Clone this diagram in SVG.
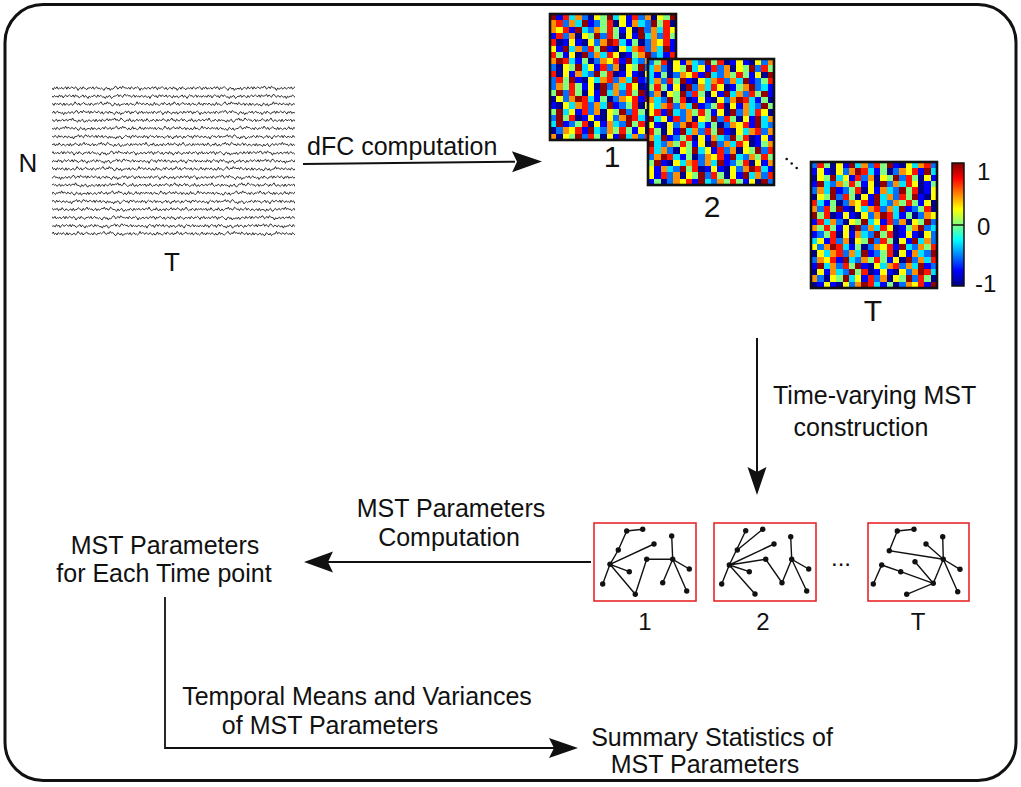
<svg xmlns="http://www.w3.org/2000/svg" xmlns:xlink="http://www.w3.org/1999/xlink" width="1021" height="787" viewBox="0 0 1021 787">
<style>
text{font-family:"Liberation Sans",Arial,sans-serif;fill:#111}
.lb{font-size:25px}
.mid{text-anchor:middle}
.big{font-size:30px}
.sm{font-size:24px}
.ln{fill:none;stroke:#111;stroke-width:2}
.ah{fill:#111}
.box{fill:#fff;stroke:#e8262a;stroke-width:1.6}
.ed{stroke:#111;stroke-width:1.4;fill:none}
.nd{fill:#111}
.eg{fill:none;stroke:#1a1a1a;stroke-width:0.9}
.c0{stroke:#00008f}.c1{stroke:#0000ff}.c2{stroke:#0070ff}.c3{stroke:#00e5ff}.c4{stroke:#80ff80}.c5{stroke:#ffff00}.c6{stroke:#ff9000}.c7{stroke:#ff1400}.c8{stroke:#900000}
.mf{fill:none;stroke:#111;stroke-width:2.6}
</style>
<defs>
<clipPath id="mc"><rect x="0" y="0" width="20" height="20"/></clipPath>
<clipPath id="ec"><rect x="52" y="80" width="243" height="162"/></clipPath>
<linearGradient id="jet" x1="0" y1="0" x2="0" y2="1">
<stop offset="0" stop-color="#800000"/><stop offset=".125" stop-color="#ff0000"/><stop offset=".25" stop-color="#ff8000"/><stop offset=".375" stop-color="#ffff00"/><stop offset=".5" stop-color="#80ff80"/><stop offset=".625" stop-color="#00ffff"/><stop offset=".75" stop-color="#0080ff"/><stop offset=".875" stop-color="#0000ff"/><stop offset="1" stop-color="#000080"/>
</linearGradient>
<g id="seq" transform="translate(0 .5)" stroke-width="1" fill="none">
<path class="c0" d="M6 0h1M16 0h1M23 0h1M34 0h1M47 0h1M56 0h1M60 0h1M69 0h1M84 0h1M91 0h1"/>
<path class="c1" d="M1 0h1M12 0h1M25 0h1M33 0h1M43 0h1M49 0h1M57 0h1M59 0h1M67 0h1M74 0h1M82 0h1M92 0h1M98 0h1"/>
<path class="c2" d="M5 0h1M14 0h1M20 0h1M29 0h1M39 0h1M44 0h1M52 0h1M62 0h1M70 0h1M77 0h1M86 0h1M96 0h1"/>
<path class="c3" d="M3 0h1M10 0h1M27 0h1M36 0h1M41 0h1M51 0h1M66 0h1M76 0h1M88 0h1M97 0h1"/>
<path class="c4" d="M8 0h1M18 0h1M22 0h1M31 0h1M45 0h1M54 0h1M68 0h1M79 0h1M81 0h1M93 0h1"/>
<path class="c5" d="M7 0h1M11 0h1M17 0h1M24 0h1M35 0h1M48 0h1M58 0h1M61 0h1M72 0h1M83 0h1M90 0h1"/>
<path class="c6" d="M4 0h1M15 0h1M28 0h1M37 0h1M40 0h1M50 0h1M63 0h1M71 0h1M78 0h1M87 0h1M94 0h1"/>
<path class="c7" d="M2 0h1M13 0h1M21 0h1M30 0h1M38 0h1M46 0h1M55 0h1M65 0h1M73 0h1M80 0h1M89 0h1M99 0h1"/>
<path class="c8" d="M0 0h1M9 0h1M19 0h1M26 0h1M32 0h1M42 0h1M53 0h1M64 0h1M75 0h1M85 0h1M95 0h1"/>
</g>
<path id="eeg" class="eg" vector-effect="non-scaling-stroke" d="M0 0l2 1.5 2-2 2 1 2-1.5 2 2 2-1 2 .5 2-1 2 1.5 2-1 2-1 2 2 2-2 2 1.5 2-.5 2-1 2 1 2 .5 2-1.5 2 1 2 2 2-1.5 2-1 2 1.5 2-2 2 1 2 .5 2 1 2-1.5 2 0 2-.5 2 1 2-1.5 2 2 2-1 2-1 2 1.5 2-.5 2 1 2-1 2 1 2 1 2-2 2-.5 2 1.5 2-1 2 2 2-1.5 2 .5 2-1 2-1.5 2 .5 2 2 2-1 2-1 2 1.5 2-2 2 1 2 .5 2 0 2 .5 2-1 2 1.5 2-2 2 1 2 1 2-1.5 2 .5 2-1 2 1 2 2 2-2 2 1 2-.5 2-1 2 1.5 2-1 2-.5 2 1.5 2-1 2-1 2 1.5 2-1.5 2 .5 2 2 2-2 2 1 2-1 2-.5 2 1 2 1 2-1.5 2 2 2-1 2-1 2 .5 2 1 2-2 2 1.5 2-.5 2 2 2-1.5 2-1 2 1.5 2-2 2 1 2 .5 2 1 2-1.5 2 0 2 .5 2-1 2 1.5 2-2 2 1 2 1 2-1.5 2 .5 2-1 2 1 2 1.5 2-2 2 1 2-1.5 2 2 2-1 2 .5 2-1 2 1.5 2-1 2-1 2 1.5 2-1.5 2 .5 2 2 2-2 2 1 2-1 2-.5 2 1 2 1 2 1 2-2 2-.5 2 1.5 2-1 2 2 2-1.5 2 .5 2-1 2 1 2-1.5 2 2 2-1 2-1 2 .5 2 1 2-2 2 1.5 2-.5 2-1 2 2 2-2 2 1.5 2-.5 2-1 2 1 2 .5 2-1.5 2 1 2-1.5 2 .5 2 2 2-1 2-1 2 1.5 2-2 2 1 2 .5 2 0 2 2 2-2 2 1 2-.5 2-1 2 1.5 2-1 2-.5 2 1.5 2-1 2-.5 2 1 2-1.5 2 2 2-1 2-1 2 1.5 2-.5 2 1 2-1"/>
<path id="eeg2" class="eg" vector-effect="non-scaling-stroke" d="M0 0l2-.5 2 1 2-1.5 2 2 2-1 2-1 2 1.5 2-.5 2 1 2-1 2 2 2-2 2 1 2-.5 2-1 2 1.5 2-1 2-.5 2 1.5 2-1 2-1.5 2 .5 2 2 2-1 2-1 2 1.5 2-2 2 1 2 .5 2 0 2-1 2 2 2-2 2 1.5 2-.5 2-1 2 1 2 .5 2-1.5 2 1 2 1 2-1.5 2 2 2-1 2-1 2 .5 2 1 2-2 2 1.5 2-.5 2 1 2 1 2-2 2-.5 2 1.5 2-1 2 2 2-1.5 2 .5 2-1 2-1 2 1.5 2-1.5 2 .5 2 2 2-2 2 1 2-1 2-.5 2 1 2 1.5 2-2 2 1 2-1.5 2 2 2-1 2 .5 2-1 2 1.5 2-1 2 .5 2-1 2 1.5 2-2 2 1 2 1 2-1.5 2 .5 2-1 2 1 2 2 2-1.5 2-1 2 1.5 2-2 2 1 2 .5 2 1 2-1.5 2 0 2 1 2-1.5 2 2 2-1 2-1 2 .5 2 1 2-2 2 1.5 2-.5 2-1 2 1.5 2-1.5 2 .5 2 2 2-2 2 1 2-1 2-.5 2 1 2 2 2-2 2 1 2-.5 2-1 2 1.5 2-1 2-.5 2 1.5 2-1 2 .5 2-1 2 1.5 2-2 2 1 2 1 2-1.5 2 .5 2-1 2 1 2-1.5 2 .5 2 2 2-1 2-1 2 1.5 2-2 2 1 2 .5 2 0 2 1 2 1 2-2 2-.5 2 1.5 2-1 2 2 2-1.5 2 .5 2-1 2-.5 2 1 2-1.5 2 2 2-1 2-1 2 1.5 2-.5 2 1 2-1 2 2 2-1.5 2-1 2 1.5 2-2 2 1 2 .5 2 1 2-1.5 2 0 2-1 2 2 2-2 2 1.5 2-.5 2-1 2 1 2 .5 2-1.5 2 1 2 1.5 2-2 2 1 2-1.5 2 2 2-1 2 .5 2-1 2 1.5 2-1"/>
</defs>

<rect id="frame" x="5" y="4.5" width="1011" height="776" rx="38" fill="#fff" stroke="#111" stroke-width="3"/>

<g id="timeseries">
<g clip-path="url(#ec)">
<use href="#eeg" transform="translate(52 88) scale(.62 1.2)"/>
<use href="#eeg2" transform="translate(300 96.1) scale(-.62 1.2)"/>
<use href="#eeg" transform="translate(49 104.2) scale(.62 -1.2)"/>
<use href="#eeg2" transform="translate(50 112.3) scale(.62 1.2)"/>
<use href="#eeg" transform="translate(297 120.4) scale(-.62 -1.2)"/>
<use href="#eeg2" transform="translate(52 128.5) scale(.62 -1.2)"/>
<use href="#eeg" transform="translate(298 136.6) scale(-.62 1.2)"/>
<use href="#eeg2" transform="translate(296 144.7) scale(-.62 -1.2)"/>
<use href="#eeg" transform="translate(48 152.8) scale(.62 1.2)"/>
<use href="#eeg2" transform="translate(299 160.9) scale(-.62 1.2)"/>
<use href="#eeg" transform="translate(51 169) scale(.62 -1.2)"/>
<use href="#eeg2" transform="translate(47 177.1) scale(.62 1.2)"/>
<use href="#eeg" transform="translate(300 185.2) scale(-.62 -1.2)"/>
<use href="#eeg2" transform="translate(48 193.3) scale(.62 -1.2)"/>
<use href="#eeg" transform="translate(296 201.4) scale(-.62 1.2)"/>
<use href="#eeg2" transform="translate(299 209.5) scale(-.62 -1.2)"/>
<use href="#eeg" transform="translate(50 217.6) scale(.62 1.2)"/>
<use href="#eeg2" transform="translate(297 225.7) scale(-.62 1.2)"/>
<use href="#eeg" transform="translate(52 233.8) scale(.62 -1.2)"/>
</g>
<text class="lb mid" x="28" y="172" style="font-size:26px">N</text>
<text class="lb mid" x="172" y="271" style="font-size:26px">T</text>
</g>

<g id="matrix1">
<g transform="translate(550 14) scale(6.3)" shape-rendering="crispEdges"><g clip-path="url(#mc)">
<use href="#seq" x="0" y="0"/><use href="#seq" x="-37" y="1"/><use href="#seq" x="-71" y="2"/><use href="#seq" x="-12" y="3"/><use href="#seq" x="-55" y="4"/><use href="#seq" x="-24" y="5"/><use href="#seq" x="-80" y="6"/><use href="#seq" x="-63" y="7"/><use href="#seq" x="-5" y="8"/><use href="#seq" x="-46" y="9"/><use href="#seq" x="-29" y="10"/><use href="#seq" x="-77" y="11"/><use href="#seq" x="-18" y="12"/><use href="#seq" x="-60" y="13"/><use href="#seq" x="-33" y="14"/><use href="#seq" x="-8" y="15"/><use href="#seq" x="-52" y="16"/><use href="#seq" x="-41" y="17"/><use href="#seq" x="-69" y="18"/><use href="#seq" x="-15" y="19"/>
</g></g>
<rect class="mf" x="550" y="14" width="126" height="126"/>
<text class="big mid" x="612" y="167">1</text>
</g>

<g id="matrix2">
<g transform="translate(648 59) scale(6.3)" shape-rendering="crispEdges"><g clip-path="url(#mc)">
<use href="#seq" x="-44" y="0"/><use href="#seq" x="-3" y="1"/><use href="#seq" x="-66" y="2"/><use href="#seq" x="-27" y="3"/><use href="#seq" x="-79" y="4"/><use href="#seq" x="-14" y="5"/><use href="#seq" x="-50" y="6"/><use href="#seq" x="-35" y="7"/><use href="#seq" x="-72" y="8"/><use href="#seq" x="-9" y="9"/><use href="#seq" x="-58" y="10"/><use href="#seq" x="-21" y="11"/><use href="#seq" x="-40" y="12"/><use href="#seq" x="-75" y="13"/><use href="#seq" x="-2" y="14"/><use href="#seq" x="-62" y="15"/><use href="#seq" x="-31" y="16"/><use href="#seq" x="-48" y="17"/><use href="#seq" x="-11" y="18"/><use href="#seq" x="-67" y="19"/>
</g></g>
<rect class="mf" x="648" y="59" width="126" height="126"/>
<text class="big mid" x="712" y="217">2</text>
</g>

<g id="dots">
<circle cx="786.7" cy="159" r="1.3" fill="#111"/><circle cx="791.7" cy="163.5" r="1.3" fill="#111"/><circle cx="796.7" cy="168" r="1.3" fill="#111"/>
</g>

<g id="matrixT">
<g transform="translate(811 162) scale(6.3)" shape-rendering="crispEdges"><g clip-path="url(#mc)">
<use href="#seq" x="-20" y="0"/><use href="#seq" x="-57" y="1"/><use href="#seq" x="-6" y="2"/><use href="#seq" x="-74" y="3"/><use href="#seq" x="-39" y="4"/><use href="#seq" x="-16" y="5"/><use href="#seq" x="-65" y="6"/><use href="#seq" x="-28" y="7"/><use href="#seq" x="-53" y="8"/><use href="#seq" x="-1" y="9"/><use href="#seq" x="-78" y="10"/><use href="#seq" x="-43" y="11"/><use href="#seq" x="-10" y="12"/><use href="#seq" x="-61" y="13"/><use href="#seq" x="-34" y="14"/><use href="#seq" x="-70" y="15"/><use href="#seq" x="-25" y="16"/><use href="#seq" x="-47" y="17"/><use href="#seq" x="-4" y="18"/><use href="#seq" x="-56" y="19"/>
</g></g>
<rect class="mf" x="811" y="162" width="126" height="126"/>
<text class="big mid" x="873" y="321">T</text>
</g>

<g id="colorbar">
<rect x="952" y="163" width="12" height="123" fill="url(#jet)" stroke="#111" stroke-width="1.5"/>
<line x1="952" y1="225" x2="964" y2="225" stroke="#111" stroke-width="1.5"/>
<text class="sm" x="977" y="180">1</text>
<text class="sm" x="977" y="235">0</text>
<text class="sm" x="975" y="292">-1</text>
</g>

<g id="mst1">
<rect class="box" x="594" y="523" width="102" height="78"/>
<path class="ed" d="M626.7 531L642.7 529.3M626.7 531L618.3 550L610 564.3M610 564.3L654 544M610 564.3L629.3 571.7M610 564.3L602.7 584M610 564.3L635.3 594.3L646.7 559.3L672.7 559.3M671.7 536L672.7 559.3L689.3 569M672.7 559.3L662.7 582.7M672.7 559.3L686.7 591"/>
<g class="nd"><circle cx="626.7" cy="531" r="2.7"/><circle cx="642.7" cy="529.3" r="2.7"/><circle cx="618.3" cy="550" r="2.7"/><circle cx="654" cy="544" r="2.7"/><circle cx="610" cy="564.3" r="2.7"/><circle cx="629.3" cy="571.7" r="2.7"/><circle cx="602.7" cy="584" r="2.7"/><circle cx="635.3" cy="594.3" r="2.7"/><circle cx="646.7" cy="559.3" r="2.7"/><circle cx="671.7" cy="536" r="2.7"/><circle cx="672.7" cy="559.3" r="2.7"/><circle cx="689.3" cy="569" r="2.7"/><circle cx="662.7" cy="582.7" r="2.7"/><circle cx="686.7" cy="591" r="2.7"/></g>
<text class="sm mid" x="645" y="630">1</text>
</g>

<g id="mst2">
<rect class="box" x="714" y="523" width="102" height="78"/>
<path class="ed" d="M729.3 565L745.7 530.7M737.3 550L762.7 529.3M729.3 565L774 544M729.3 565L765.7 559.3L782 582.7L791.7 559.3M729.3 565L749.3 571.7M729.3 565L755 594M729.3 565L721.7 584M790.7 536.7L791.7 559.3L808.7 569M791.7 559.3L806.7 591"/>
<g class="nd"><circle cx="745.7" cy="530.7" r="2.7"/><circle cx="762.7" cy="529.3" r="2.7"/><circle cx="737.3" cy="550" r="2.7"/><circle cx="774" cy="544" r="2.7"/><circle cx="729.3" cy="565" r="2.7"/><circle cx="749.3" cy="571.7" r="2.7"/><circle cx="721.7" cy="584" r="2.7"/><circle cx="755" cy="594" r="2.7"/><circle cx="765.7" cy="559.3" r="2.7"/><circle cx="790.7" cy="536.7" r="2.7"/><circle cx="791.7" cy="559.3" r="2.7"/><circle cx="808.7" cy="569" r="2.7"/><circle cx="782" cy="582.7" r="2.7"/><circle cx="806.7" cy="591" r="2.7"/></g>
<text class="sm mid" x="763" y="630">2</text>
</g>

<text class="sm mid" x="841" y="566">...</text>

<g id="mstT">
<rect class="box" x="868" y="523" width="101" height="78"/>
<path class="ed" d="M897.3 531L914 529.3M897.3 531L889.3 550.7L943.3 559.3M926 544L943.3 559.3L960 569.3M942.7 536.7L943.3 559.3L957.7 591.7M943.3 559.3L933.3 583.3M873.3 584L881.7 565L900.7 571.7L933.3 583.3M915 561.7L933.3 583.3L906.7 594.3"/>
<g class="nd"><circle cx="897.3" cy="531" r="2.7"/><circle cx="914" cy="529.3" r="2.7"/><circle cx="889.3" cy="550.7" r="2.7"/><circle cx="926" cy="544" r="2.7"/><circle cx="942.7" cy="536.7" r="2.7"/><circle cx="943.3" cy="559.3" r="2.7"/><circle cx="960" cy="569.3" r="2.7"/><circle cx="881.7" cy="565" r="2.7"/><circle cx="900.7" cy="571.7" r="2.7"/><circle cx="873.3" cy="584" r="2.7"/><circle cx="915" cy="561.7" r="2.7"/><circle cx="933.3" cy="583.3" r="2.7"/><circle cx="957.7" cy="591.7" r="2.7"/><circle cx="906.7" cy="594.3" r="2.7"/></g>
<text class="sm mid" x="918" y="630">T</text>
</g>

<g id="mstparams">
<text class="lb mid" x="165" y="554">MST Parameters</text>
<text class="lb mid" x="164" y="582">for Each Time point</text>
</g>

<g id="summary">
<text class="lb mid" x="712" y="746">Summary Statistics of</text>
<text class="lb mid" x="705" y="773">MST Parameters</text>
</g>

<g id="connectors">
<path class="ln" d="M303 164L515 161.8"/>
<path class="ah" d="M542 161.5l-30-10.5 5 10.5-5 10.5z" transform="rotate(-0.6 542 161.5)"/>
<path class="ln" d="M757 338V472"/>
<path class="ah" d="M757 495l-9.5-28 9.5 5 9.5-5z"/>
<path class="ln" d="M591 562H326"/>
<path class="ah" d="M304 562l29-10.5-5 10.5 5 10.5z"/>
<path class="ln" style="stroke-width:1.8" d="M165 597V748H555"/>
<path class="ah" d="M578 748l-29-10 5 10-5 10z"/>
</g>

<g id="labels">
<text class="lb" x="307" y="155">dFC computation</text>
<text class="lb" x="773" y="404">Time-varying MST</text>
<text class="lb mid" x="861" y="436">construction</text>
<text class="lb mid" x="451" y="517">MST Parameters</text>
<text class="lb mid" x="449" y="546">Computation</text>
<text class="lb mid" x="357" y="705">Temporal Means and Variances</text>
<text class="lb mid" x="330" y="734">of MST Parameters</text>
</g>
</svg>
